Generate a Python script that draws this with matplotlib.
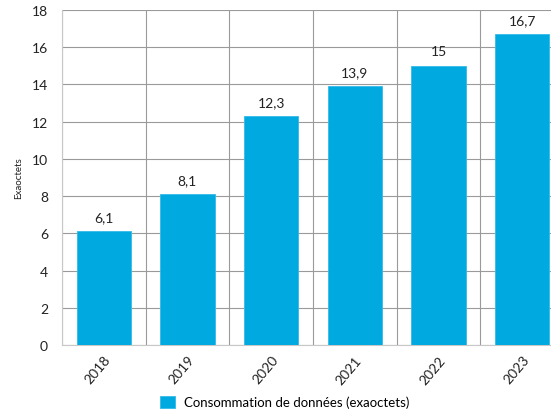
import matplotlib.pyplot as plt
import numpy as np

annees = ['2018', '2019', '2020', '2021', '2022', '2023']
valeurs = [6.1, 8.1, 12.3, 13.9, 15, 16.7]
etiquettes = ['6,1', '8,1', '12,3', '13,9', '15', '16,7']

plt.rcParams['font.family'] = ['Lato', 'DejaVu Sans']

fig = plt.figure(figsize=(5.51, 4.14), dpi=100)
ax = fig.add_axes([62 / 551, 1 - 346 / 414, 502 / 551, 335 / 414])

x = np.arange(len(annees))
barres = ax.bar(x, valeurs, width=0.65, color='#00a9e0', edgecolor='#33bbe8',
                linewidth=0.6, zorder=3, label='Consommation de données (exaoctets)')

for xi, v, t in zip(x, valeurs, etiquettes):
    ax.text(xi, v + 0.45, t, ha='center', va='bottom', fontsize=10, color='#222222')

ax.set_xlim(-0.5, len(annees) - 0.5)
ax.set_ylim(0, 18)
ax.set_yticks(np.arange(0, 19, 2))
ax.set_xticks(x)
ax.set_xticklabels(annees, rotation=50, ha='right', rotation_mode='anchor', fontsize=10)
ax.tick_params(axis='both', length=0, labelsize=10, colors='#222222')
ax.tick_params(axis='y', pad=10)
ax.tick_params(axis='x', pad=6)

# grille horizontale
ax.yaxis.grid(True, color='#9a9a9a', linewidth=0.8, zorder=0)
# séparateurs verticaux entre catégories
for b in np.arange(-0.5, len(annees), 1):
    ax.axvline(b, color='#9a9a9a', linewidth=0.8, zorder=0)

for s in ['top', 'right']:
    ax.spines[s].set_visible(False)
ax.spines['left'].set_color('#c8c8c8')
ax.spines['bottom'].set_color('#c8c8c8')

ax.set_ylabel('Exaoctets', fontsize=7, color='#222222', labelpad=6)

fig.legend(handles=[barres], loc='center', bbox_to_anchor=(285 / 551, 1 - 403 / 414),
           frameon=False, fontsize=9.5, handlelength=1.1, handleheight=1.1,
           handletextpad=0.7)

fig.savefig('out.png', dpi=100)
